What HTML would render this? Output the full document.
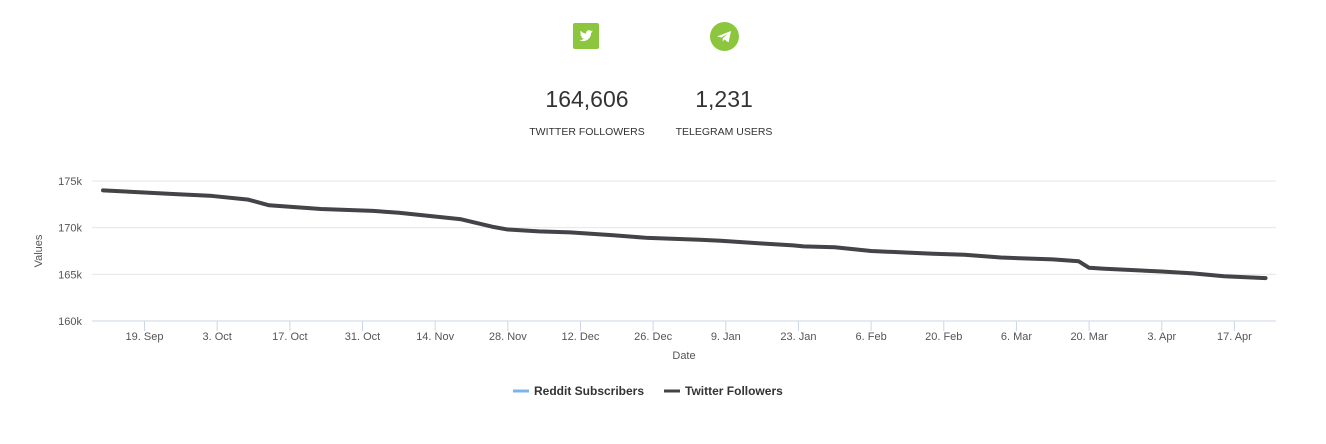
<!DOCTYPE html>
<html><head><meta charset="utf-8"><style>
body{margin:0;width:1326px;height:444px;background:#fff;font-family:"Liberation Sans",sans-serif;overflow:hidden;position:relative}
.stat{position:absolute;text-align:center;width:160px;color:#333}
.num{font-size:23px;color:#333}
.lbl{font-size:10.5px;color:#333;margin-top:13px}
.icon{position:absolute;width:26px;height:26px;background:#8cc63f}
</style></head><body>
<div class="icon" style="left:573px;top:23px;border-radius:2px">
<svg width="26" height="26" viewBox="0 0 26 26"><path d="M20 8.5c-.5.2-1 .4-1.6.4.6-.3 1-.9 1.2-1.5-.5.3-1.1.5-1.7.7a2.7 2.7 0 0 0-4.6 2.5c-2.3-.1-4.3-1.2-5.6-2.8-.7 1.3-.3 2.8.8 3.6-.4 0-.9-.1-1.2-.3 0 1.3.9 2.4 2.200 2.7-.4.1-.8.1-1.2 0 .3 1.1 1.4 1.9 2.5 1.9A5.5 5.5 0 0 1 6 16.8a7.8 7.8 0 0 0 12-6.9c.8-.4 1.4-.9 2-1.4z" fill="#fff"/></svg></div>
<div class="icon" style="left:710px;top:22px;width:29px;height:29px;border-radius:50%">
<svg width="29" height="29" viewBox="0 0 29 29"><path d="M7 14.5l14-5.5-2.5 11.5-4-3-2 2 .3-3.2 5.2-4.8-6.5 4z" fill="#fff"/></svg></div>
<div class="stat" style="left:507px;top:86px"><div class="num">164,606</div><div class="lbl">TWITTER FOLLOWERS</div></div>
<div class="stat" style="left:644px;top:86px"><div class="num">1,231</div><div class="lbl">TELEGRAM USERS</div></div>
<svg id="chart" width="1326" height="444" style="position:absolute;left:0;top:0"></svg>
<script>
const dayOffsets=[0,7,14,21,28,32,42,52,57,69,75,78,84,90,98,105,115,119,127,133,135,141,148,160,166,173,183,188,190,193,204,210,216,224];
const twitterValues=[174000,173800,173600,173400,173000,172400,172000,171800,171600,170900,170100,169800,169600,169500,169200,168900,168700,168600,168300,168100,168000,167900,167500,167200,167100,166800,166600,166400,165700,165600,165300,165100,164800,164600];
const yTicks=[160000,165000,170000,175000];
const yTickLabels=["160k","165k","170k","175k"];
const xTickDays=[8,22,36,50,64,78,92,106,120,134,148,162,176,190,204,218];
const xTickLabels=["19. Sep","3. Oct","17. Oct","31. Oct","14. Nov","28. Nov","12. Dec","26. Dec","9. Jan","23. Jan","6. Feb","20. Feb","6. Mar","20. Mar","3. Apr","17. Apr"];
const NS="http://www.w3.org/2000/svg",svg=document.getElementById('chart');
const L=92,R=1276,T=181,B=321;
const x=d=>103+d*5.19;
const y=v=>B-(v-160000)/15000*(B-T);
function mk(t,a,txt){const e=document.createElementNS(NS,t);for(const k in a)e.setAttribute(k,a[k]);if(txt!=null)e.textContent=txt;svg.appendChild(e);return e;}
yTicks.forEach((v,i)=>{
 const g=mk('line',{x1:L,x2:R,y1:y(v),y2:y(v),stroke:i==0?'#ccd6eb':'#e6e6e6','stroke-width':1});
 
 
 const t=mk('text',{x:82,y:y(v)+4,'text-anchor':'end','font-size':11,fill:'#555'},yTickLabels[i]);
 
 
});
xTickDays.forEach((d,i)=>{
 const l=mk('line',{x1:x(d),x2:x(d),y1:B,y2:B+10,stroke:'#ccd6eb'});
 
 
 const t=mk('text',{x:x(d),y:340,'text-anchor':'middle','font-size':11,fill:'#555'},xTickLabels[i]);
 
 
});
const yt=mk('text',{x:0,y:0,transform:'translate(42,251) rotate(-90)','text-anchor':'middle','font-size':11,fill:'#555'},'Values');


const xt=mk('text',{x:684,y:359,'text-anchor':'middle','font-size':11,fill:'#555'},'Date');


const p=mk('path',{d:dayOffsets.map((d,i)=>(i?'L':'M')+x(d)+','+y(twitterValues[i])).join(''),fill:'none',stroke:'#434348','stroke-width':4,'stroke-linejoin':'round','stroke-linecap':'round'});


const l1=mk('line',{x1:513,x2:529,y1:391,y2:391,stroke:'#7cb5ec','stroke-width':3});


const t1=mk('text',{x:534,y:395,'font-size':12,'font-weight':'bold',fill:'#333'},'Reddit Subscribers');


const l2=mk('line',{x1:664,x2:680,y1:391,y2:391,stroke:'#434348','stroke-width':3});


const t2=mk('text',{x:685,y:395,'font-size':12,'font-weight':'bold',fill:'#333'},'Twitter Followers');


</script>
</body></html>
